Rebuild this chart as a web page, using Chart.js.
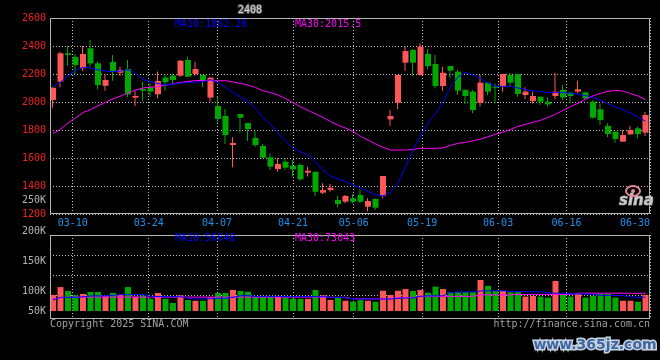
<!DOCTYPE html>
<html><head><meta charset="utf-8">
<script src="https://cdn.jsdelivr.net/npm/chart.js@4.4.1/dist/chart.umd.min.js"></script>
<style>
html,body{margin:0;padding:0;background:#000;width:660px;height:360px;overflow:hidden}
#c1{position:absolute;left:0;top:0}
#c2{position:absolute;left:0;top:224px}
</style></head><body>
<canvas id="c1" width="660" height="232"></canvas>
<canvas id="c2" width="660" height="136"></canvas>
<script>
// ---------- data ----------
const dates = ['03-04','03-05','03-06','03-07','03-10','03-11','03-12','03-13','03-14','03-17','03-18','03-19','03-20','03-21','03-24','03-25','03-26','03-27','03-28','03-31',
'04-01','04-02','04-03','04-07','04-08','04-09','04-10','04-11','04-14','04-15','04-16','04-17','04-18','04-21','04-22','04-23','04-24','04-25','04-28','04-29','04-30',
'05-06','05-07','05-08','05-09','05-12','05-13','05-14','05-15','05-16','05-19','05-20','05-21','05-22','05-23','05-26','05-27','05-28','05-29','05-30',
'06-03','06-04','06-05','06-06','06-09','06-10','06-11','06-12','06-13','06-16','06-17','06-18','06-19','06-20','06-23','06-24','06-25','06-26','06-27','06-30'];
const open  = [2014,2145,2348,2321,2241,2384,2276,2116,2286,2209, 2236,2031,2093,2105,2055,2174,2188,2188,2300,2200,
               2193,2031,1971,1900,1693,1914,1850,1743,1686,1605, 1521,1574,1545,1550,1495,1502,1352,1371,1300,1288,
               1312,1336,1252,1307,1329,1876,1995,2281,2371,2193, 2343,2271,2114,2257,2217,2086,2074,1995,2138,2110,
               2110,2193,2200,2050,2007,2038,2002,2043,2086,2067, 2074,2069,2002,1948,1829,1788,1717,1769,1812,1781];
const high  = [2105,2359,2400,2343,2400,2443,2288,2198,2336,2252, 2300,2081,2145,2133,2217,2193,2200,2300,2324,2288,
               2193,2181,2038,1950,1748,1914,1850,1793,1700,1634, 1598,1598,1586,1562,1538,1502,1419,1414,1329,1336,
               1343,1376,1312,1312,1471,1943,2193,2395,2379,2419, 2379,2336,2252,2257,2229,2091,2086,2193,2138,2133,
               2200,2205,2200,2105,2074,2038,2033,2209,2121,2074, 2152,2074,2010,1990,1848,1788,1800,1829,1824,1931];
const low   = [1959,2105,2259,2200,2224,2252,2091,2081,2152,2186, 2034,1971,2007,2038,2026,2081,2133,2181,2176,2186,
               2105,2002,1852,1700,1534,1781,1721,1679,1600,1514, 1502,1514,1467,1438,1467,1329,1343,1359,1248,1276,
               1276,1276,1217,1229,1312,1829,1950,2224,2188,2188, 2234,2098,2081,2169,2050,1986,1919,1967,2050,1990,
               2074,2110,2038,2019,1990,1979,1967,2019,2014,1990, 2062,2019,1883,1836,1748,1709,1717,1764,1741,1757];
const close = [2102,2348,2336,2264,2343,2276,2121,2157,2221,2229, 2055,2043,2081,2074,2150,2141,2157,2295,2181,2236,
               2157,2174,1879,1764,1707,1888,1807,1693,1602,1538, 1557,1531,1519,1448,1509,1359,1371,1388,1271,1329,
               1288,1288,1293,1245,1471,1900,2193,2364,2281,2395, 2257,2114,2209,2224,2081,2043,1943,2138,2074,2102,
               2200,2138,2057,2074,2043,2002,1983,2074,2033,2043, 2091,2026,1888,1871,1771,1736,1764,1800,1771,1907];
const ma10  = [2110,2141,2186,2225,2248,2243,2230,2221,2217,2220, 2232,2205,2162,2145,2132,2122,2127,2136,2138,2141,
               2145,2160,2140,2105,2070,2035,2000,1955,1890,1843, 1779,1721,1671,1643,1621,1571,1514,1471,1450,1432,
               1407,1386,1361,1336,1329,1357,1421,1536,1657,1757, 1850,1914,2000,2107,2179,2211,2193,2168,2136,2114,
               2111,2114,2100,2089,2079,2074,2069,2068,2067,2062, 2054,2046,2032,2014,1986,1964,1946,1921,1893,1862.26];
const ma30  = [1775,1805,1850,1885,1925,1945,1972,1998,2022,2042, 2064,2086,2100,2106,2110,2120,2130,2140,2147,2153,
               2154,2153,2152,2152,2143,2133,2120,2104,2080,2068, 2050,2025,1995,1965,1940,1915,1890,1860,1835,1814,
               1790,1755,1728,1700,1677,1657,1657,1657,1662,1669, 1669,1669,1672,1690,1705,1712,1722,1735,1752,1770,
               1785,1805,1826,1840,1855,1869,1890,1912,1940,1967, 1990,2020,2043,2062,2076,2083,2078,2060,2043,2015.5];
const volume = [66000,98000,82000,64000,70000,78000,78000,62000,74000,68000, 98000,59000,63000,50000,74000,50000,33000,64000,45000,42000,
                42000,56000,74000,74000,86000,82000,79000,59000,59000,59000, 62000,55000,50000,50000,50000,86000,64000,45000,55000,42000,
                38000,45000,42000,38000,83000,66000,83000,90000,82000,86000, 75000,100000,90000,77000,77000,77000,77000,127000,103000,83000,
                83000,77000,79000,59000,62000,59000,55000,123000,66000,59000, 70000,55000,62000,70000,70000,55000,42000,42000,38000,66000];
const volMa10 = [45000,56000,56000,56000,58000,62000,62000,62000,64000,67000, 67000,67000,67000,60000,59000,59000,59000,59000,52000,50000,
                 50000,50000,52000,52000,56000,63000,63000,60000,60000,60000, 60000,59000,59000,59000,59000,59000,59000,56000,56000,54000,
                 50000,49000,49000,49000,49000,49000,52000,53000,53000,60000, 62000,62000,62000,75000,78000,78000,78000,82000,83000,83000,
                 83000,80000,79000,79000,79000,79000,74000,73000,73000,71000, 70000,70000,68000,64000,64000,64000,63000,58000,56000,56648];
const volMa30 = [50000,53000,56000,57000,57000,57000,57000,57000,57000,57000, 57000,57000,57000,57000,57000,57000,57000,57000,57000,57000,
                 57000,57000,57000,57000,57000,57000,57000,57000,57000,57000, 57000,57000,57000,57000,57000,57000,57000,56000,56000,56000,
                 50000,50000,50000,50000,50000,50000,55000,55000,55000,60000, 60000,60000,60000,60000,60000,60000,60000,66000,66000,66000,
                 66000,66000,68000,68000,68000,68000,68000,68000,68000,68000, 73000,73000,73000,73000,73000,73000,73000,73000,72000,73043];
const tickDates = ['03-10','03-24','04-07','04-21','05-06','05-19','06-03','06-16','06-30'];
const priceTicks = [1200,1400,1600,1800,2000,2200,2400,2600];
const volGridValues = [65600,147600,229600,311600];
const volTickLabels = ['200K','150K','100K','50K'];
const titleText = '2408';
const priceLegend = ['MA10:1862.26','MA30:2015.5'];
const volLegend = ['MA10:56648','MA30:73043'];

// ---------- styles ----------
const FONT = '"DejaVu Sans Mono", "Liberation Mono", monospace';
const UP = '#ff5757', DOWN = '#00a800', GRID = '#c4c4c4', FRAME = '#b4b4b4';
const BLUE = '#0000ff', MAGENTA = '#ff00ff';
const colorAt = i => close[i] >= open[i] ? UP : DOWN;
const cols = dates.map((d, i) => colorAt(i));

// date grid axis: ticks at the labelled sessions, last label pinned at the right edge
const dateMin = 1, dateMax = dates.length;
const tickIdx = tickDates.map(d => dates.indexOf(d));
const dateTickValues = [dateMin, ...tickIdx.slice(0, -1), dateMax];
const dateTickLabels = ['', ...tickDates];

function dateAxis(show) {
  return {
    type: 'linear', position: 'bottom', min: dateMin, max: dateMax, offset: false,
    afterBuildTicks: s => { s.ticks = dateTickValues.map(v => ({value: v})); },
    afterFit: s => { s.height = show ? 18 : 0; },
    grid: {color: GRID, lineWidth: 1, drawTicks: false, offset: false},
    border: {display: false, dash: [1, 2]},
    ticks: {display: show, autoSkip: false, maxRotation: 0, align: 'inner', padding: 3,
            color: '#1e90ea', font: {family: FONT, size: 10},
            callback: (v, i) => dateTickLabels[i]}
  };
}
function candleAxis(shift) {
  return {type: 'linear', display: false, offset: false, grid: {offset: false},
          min: -0.4 + shift, max: dates.length - 0.4 + shift};
}

const framePlugin = {
  id: 'frame',
  afterDraw(chart, args, opts) {
    const {ctx, chartArea: a} = chart;
    ctx.save();
    ctx.strokeStyle = FRAME; ctx.lineWidth = 1;
    ctx.strokeRect(a.left + 0.5, a.top + 0.5, a.right - a.left - 1, a.bottom - a.top - 1);
    ctx.textBaseline = 'middle';
    (opts.items || []).forEach(t => {
      ctx.font = t.font || ('10px ' + FONT);
      ctx.textAlign = t.align || 'left';
      if (t.stroke) { ctx.lineWidth = t.strokeWidth || 2; ctx.strokeStyle = t.stroke; ctx.strokeText(t.text, t.x, t.y); }
      ctx.fillStyle = t.color;
      ctx.fillText(t.text, t.x, t.y);
    });
    if (opts.logo) {
      ctx.strokeStyle = '#e88a9a'; ctx.lineWidth = 2;
      ctx.beginPath(); ctx.ellipse(633, 191, 7, 5, 0, 0, Math.PI * 2); ctx.stroke();
      ctx.fillStyle = '#e88a9a'; ctx.beginPath(); ctx.arc(633, 191, 2, 0, Math.PI * 2); ctx.fill();
    }
    ctx.restore();
  }
};

const idx = dates.map((d, i) => i);

// ---------- price chart ----------
new Chart(document.getElementById('c1'), {
  data: {
    datasets: [
      {type: 'bar', xAxisID: 'xw', yAxisID: 'y', order: 2, grouped: false, barThickness: 1, inflateAmount: 0,
       data: idx.map(i => ({x: i, y: [low[i], high[i]]})), backgroundColor: cols},
      {type: 'bar', xAxisID: 'x', yAxisID: 'y', order: 1, grouped: false, barThickness: 6, minBarLength: 1, inflateAmount: 0,
       data: idx.map(i => ({x: i, y: [open[i], close[i]]})), backgroundColor: cols},
      {type: 'line', xAxisID: 'x', yAxisID: 'y', order: 0, data: idx.map(i => ({x: i, y: ma10[i]})),
       borderColor: BLUE, borderWidth: 1, pointRadius: 0, tension: 0},
      {type: 'line', xAxisID: 'x', yAxisID: 'y', order: 0, data: idx.map(i => ({x: i, y: ma30[i]})),
       borderColor: MAGENTA, borderWidth: 1, pointRadius: 0, tension: 0}
    ]
  },
  options: {
    responsive: false, animation: false, devicePixelRatio: 1,
    layout: {padding: {top: 18, right: 10, left: 0, bottom: 0}},
    plugins: {legend: {display: false}, tooltip: {enabled: false},
      frame: {logo: true, items: [
        {text: titleText, x: 250, y: 10, color: '#d8d8d8', align: 'center', stroke: '#555', strokeWidth: 2},
        {text: priceLegend[0], x: 175, y: 24, color: BLUE},
        {text: priceLegend[1], x: 295, y: 24, color: MAGENTA},
        {text: '250K', x: 46, y: 200, color: '#b4b4b4', align: 'right'},
        {text: 'sina', x: 619, y: 201, color: '#c8c8c8', font: 'italic bold 15px "DejaVu Sans", sans-serif', stroke: '#777', strokeWidth: 1}
      ]}},
    scales: {
      x: candleAxis(0),
      xw: candleAxis(1 / 15),
      xd: dateAxis(true),
      y: {type: 'linear', position: 'left', min: priceTicks[0], max: priceTicks[priceTicks.length - 1],
          afterBuildTicks: s => { s.ticks = priceTicks.map(v => ({value: v})); },
          afterFit: s => { s.width = 50; },
          grid: {color: GRID, drawTicks: false}, border: {display: false, dash: [1, 2]},
          ticks: {color: '#f02222', font: {family: FONT, size: 10}, padding: 4, callback: v => String(v)}}
    }
  },
  plugins: [framePlugin]
});

// ---------- volume chart ----------
new Chart(document.getElementById('c2'), {
  data: {
    datasets: [
      {type: 'bar', xAxisID: 'x', yAxisID: 'vy', order: 1, grouped: false, barThickness: 6, inflateAmount: 0,
       data: idx.map(i => ({x: i, y: volume[i]})), backgroundColor: cols},
      {type: 'line', xAxisID: 'x', yAxisID: 'vy', order: 0, data: idx.map(i => ({x: i, y: volMa10[i]})),
       borderColor: BLUE, borderWidth: 1, pointRadius: 0, tension: 0},
      {type: 'line', xAxisID: 'x', yAxisID: 'vy', order: 0, data: idx.map(i => ({x: i, y: volMa30[i]})),
       borderColor: MAGENTA, borderWidth: 1, pointRadius: 0, tension: 0}
    ]
  },
  options: {
    responsive: false, animation: false, devicePixelRatio: 1,
    layout: {padding: {top: 11, right: 10, left: 0, bottom: 41}},
    plugins: {legend: {display: false}, tooltip: {enabled: false},
      frame: {items: [
        {text: volTickLabels[0], x: 46, y: 7, color: '#b4b4b4', align: 'right'},
        {text: volTickLabels[1], x: 46, y: 37, color: '#b4b4b4', align: 'right'},
        {text: volTickLabels[2], x: 46, y: 67, color: '#b4b4b4', align: 'right'},
        {text: volTickLabels[3], x: 46, y: 87, color: '#b4b4b4', align: 'right'},
        {text: volLegend[0], x: 175, y: 14, color: BLUE},
        {text: volLegend[1], x: 295, y: 14, color: MAGENTA},
        {text: 'Copyright 2025 SINA.COM', x: 50, y: 100, color: '#a0a0a0'},
        {text: 'http://finance.sina.com.cn', x: 650, y: 100, color: '#a0a0a0', align: 'right'},
        {text: 'www.365jz.com', x: 595, y: 121, color: '#3f67a0', align: 'center',
         font: 'bold 14px "DejaVu Sans", sans-serif', stroke: '#c8d4e4', strokeWidth: 3}
      ]}},
    scales: {
      x: candleAxis(0),
      xd: dateAxis(false),
      vy: {type: 'linear', position: 'left', min: -32800, max: 311600,
           afterBuildTicks: s => { s.ticks = volGridValues.map(v => ({value: v})); },
           afterFit: s => { s.width = 50; },
           grid: {color: GRID, drawTicks: false}, border: {display: false, dash: [1, 2]},
           ticks: {display: false}}
    }
  },
  plugins: [framePlugin]
});
</script>
</body></html>
